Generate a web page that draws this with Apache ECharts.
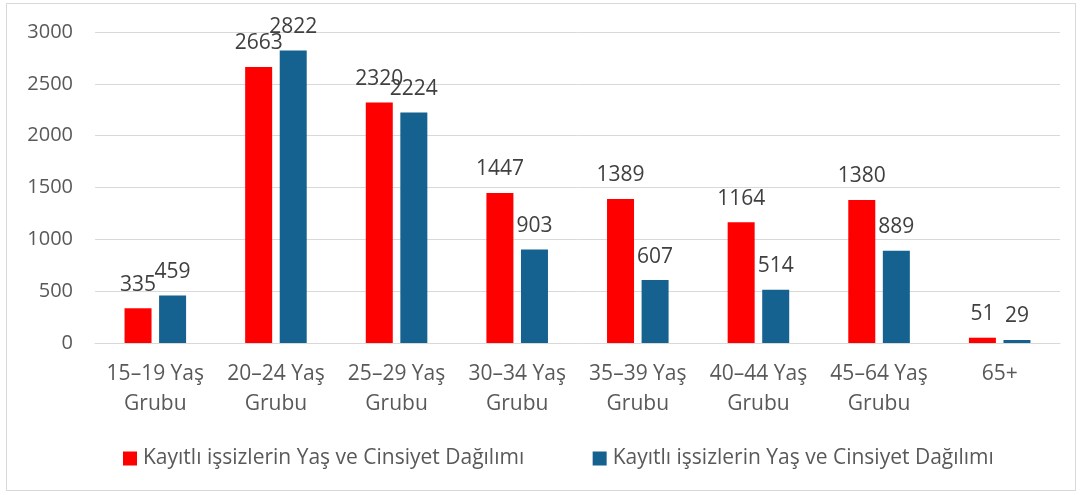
<!DOCTYPE html>
<html><head><meta charset="utf-8">
<script src="https://cdn.jsdelivr.net/npm/echarts@6/dist/echarts.min.js"></script>
<style>
html,body{margin:0;padding:0;background:#fff;}
#frame{position:absolute;left:6px;top:3px;width:1070px;height:488px;border:1px solid #d9d9d9;box-sizing:border-box;}
#c{position:absolute;left:0;top:0;width:1083px;height:495px;}
</style></head>
<body>
<div id="frame"></div>
<div id="c"></div>
<script>
const categories = ["15–19 Yaş\nGrubu","20–24 Yaş\nGrubu","25–29 Yaş\nGrubu","30–34 Yaş\nGrubu","35–39 Yaş\nGrubu","40–44 Yaş\nGrubu","45–64 Yaş\nGrubu","65+"];
const seriesName = "Kayıtlı işsizlerin Yaş ve Cinsiyet Dağılımı";
const redValues = [335, 2663, 2320, 1447, 1389, 1164, 1380, 51];
const blueValues = [459, 2822, 2224, 903, 607, 514, 889, 29];
const font = "'Open Sans', 'Noto Sans', sans-serif";
const chart = echarts.init(document.getElementById('c'));
const lbl = {show:true, position:'top', distance:13, fontSize:21, color:'#404040', fontFamily:font};
chart.setOption({
  animation:false,
  grid:{left:95, right:23, top:32, bottom:152},
  legend:{
    top:448, left:123, padding:0, itemWidth:14, itemHeight:14, itemGap:63,
    icon:'rect',
    textStyle:{fontSize:21, color:'#595959', fontFamily:font, padding:[0,0,0,1]},
    data:[{name:seriesName+' '},{name:seriesName}]
  },
  xAxis:{
    type:'category', data:categories,
    axisLine:{lineStyle:{color:'#d9d9d9'}},
    axisTick:{show:false},
    axisLabel:{fontSize:21, color:'#595959', fontFamily:font, lineHeight:30, margin:16, interval:0}
  },
  yAxis:{
    type:'value', min:0, max:3000, interval:500,
    axisLine:{show:false}, axisTick:{show:false},
    splitLine:{lineStyle:{color:'#d9d9d9'}},
    axisLabel:{fontSize:20, color:'#595959', fontFamily:font, margin:22, formatter:v=>String(v)}
  },
  series:[
    {name:seriesName+' ', type:'bar', data:redValues, barWidth:27, barGap:'28%', itemStyle:{color:'#ff0000'}, label:lbl},
    {name:seriesName, type:'bar', data:blueValues, barWidth:27, itemStyle:{color:'#156190'}, label:lbl}
  ]
});
</script>
</body></html>
